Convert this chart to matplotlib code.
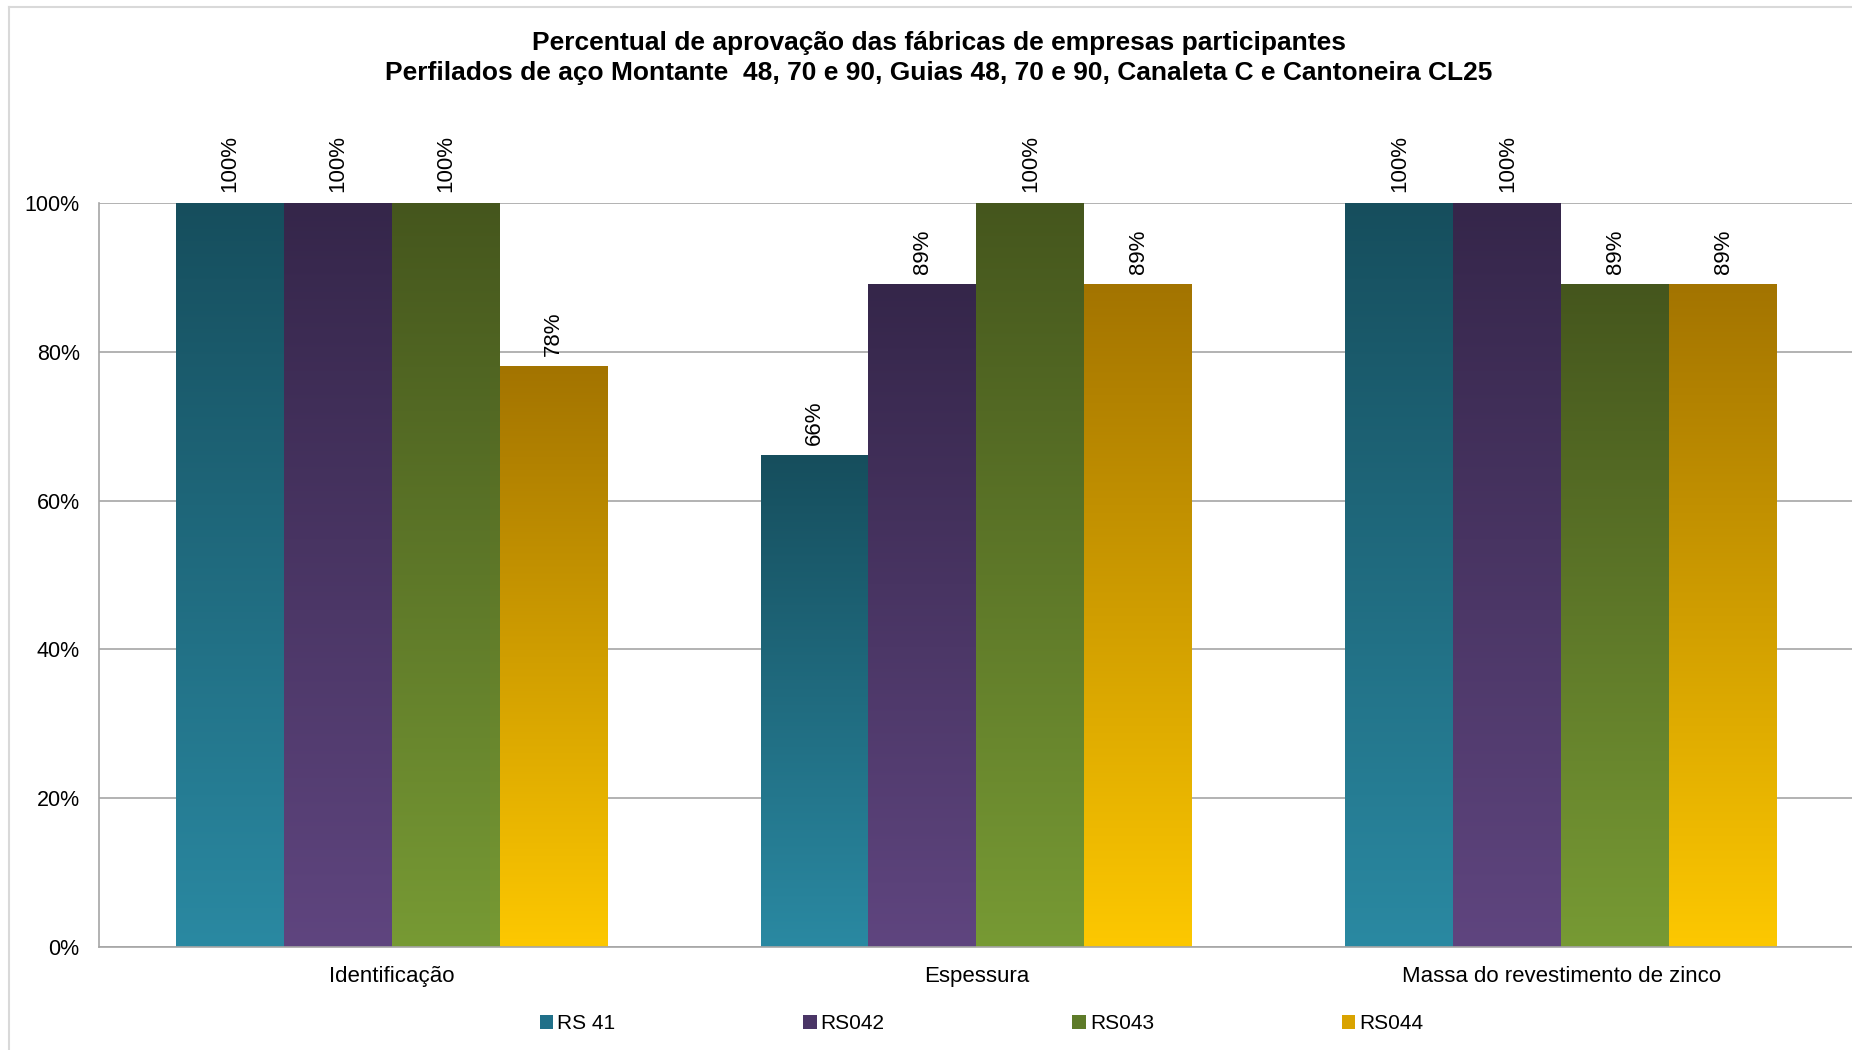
import numpy as np
import matplotlib
matplotlib.use("Agg")
import matplotlib.pyplot as plt
from matplotlib.colors import LinearSegmentedColormap
from matplotlib.patches import Patch
from matplotlib.lines import Line2D

plt.rcParams['font.family'] = ['Liberation Sans', 'DejaVu Sans']

# Data
categories = ["Identificação", "Espessura", "Massa do revestimento de zinco"]
series = ["RS 41", "RS042", "RS043", "RS044"]
rs41 = [1.00, 0.66, 1.00]
rs042 = [1.00, 0.89, 1.00]
rs043 = [1.00, 1.00, 0.89]
rs044 = [0.78, 0.89, 0.89]
values = [rs41, rs042, rs043, rs044]

# gradient colours per series: (bottom, top)
grad = [("#2a89a2", "#164e5d"),
        ("#5f457f", "#35264a"),
        ("#779a34", "#45561d"),
        ("#fdc800", "#a37400")]
legend_cols = ["#207089", "#4a3566", "#5e7b29", "#d9a300"]

fig = plt.figure(figsize=(18.52, 10.5), dpi=100)
ax = fig.add_axes([0.0535, 0.0981, 0.9475, 0.7086])

x = np.arange(len(categories))
w = 0.1846
offsets = np.array([-1.5, -0.5, 0.5, 1.5]) * w

ramp = np.linspace(0, 1, 256).reshape(-1, 1)
for vals, off, (c0, c1) in zip(values, offsets, grad):
    cmap = LinearSegmentedColormap.from_list("g", [c0, c1])
    bars = ax.bar(x + off, vals, width=w, color="none", edgecolor="none")
    for b, v in zip(bars, vals):
        x0 = b.get_x()
        ax.imshow(ramp, cmap=cmap, origin="lower", aspect="auto",
                  extent=(x0, x0 + w, 0, v), zorder=2, interpolation="bilinear")
        ax.annotate(f"{v:.0%}", (x0 + w / 2, v), xytext=(0, 8),
                    textcoords="offset points", rotation=90,
                    ha="center", va="bottom", fontsize=16, color="#000000")

ax.set_xlim(-0.5, 2.5)
ax.set_ylim(0, 1)
ax.set_xticks(x)
ax.set_xticklabels(categories, fontsize=16)
ax.set_yticks(np.arange(0, 1.01, 0.2))
ax.set_yticklabels([f"{t:.0%}" for t in np.arange(0, 1.01, 0.2)], fontsize=15.5)
ax.tick_params(axis="x", length=0, pad=14)
ax.tick_params(axis="y", length=0, pad=14)
ax.yaxis.grid(True, color="#a6a6a6", linewidth=1.2)
ax.set_axisbelow(True)
for s in ["top", "right"]:
    ax.spines[s].set_visible(False)
for s in ["left", "bottom"]:
    ax.spines[s].set_color("#a6a6a6")
    ax.spines[s].set_linewidth(1.2)

fig.text(0.507, 0.945, "Percentual de aprovação das fábricas de empresas participantes\n"
         "Perfilados de aço Montante  48, 70 e 90, Guias 48, 70 e 90, Canaleta C e Cantoneira CL25",
         ha="center", va="center", fontsize=19, fontweight="bold", linespacing=1.3)

handles = [Patch(facecolor=c, edgecolor="none") for c in legend_cols]
fig.legend(handles, series, loc="center", bbox_to_anchor=(0.53, 0.025), ncol=4,
           frameon=False, fontsize=15, handlelength=0.65, handleheight=0.65,
           handletextpad=0.2, columnspacing=9.0)

# outer chart frame
fig.add_artist(Line2D([9 / 1852, 9 / 1852], [0, 1 - 7 / 1050], color="#d9d9d9", lw=1.5))
fig.add_artist(Line2D([9 / 1852, 1], [1 - 7 / 1050, 1 - 7 / 1050], color="#d9d9d9", lw=1.5))

fig.savefig("out.png", dpi=100)
